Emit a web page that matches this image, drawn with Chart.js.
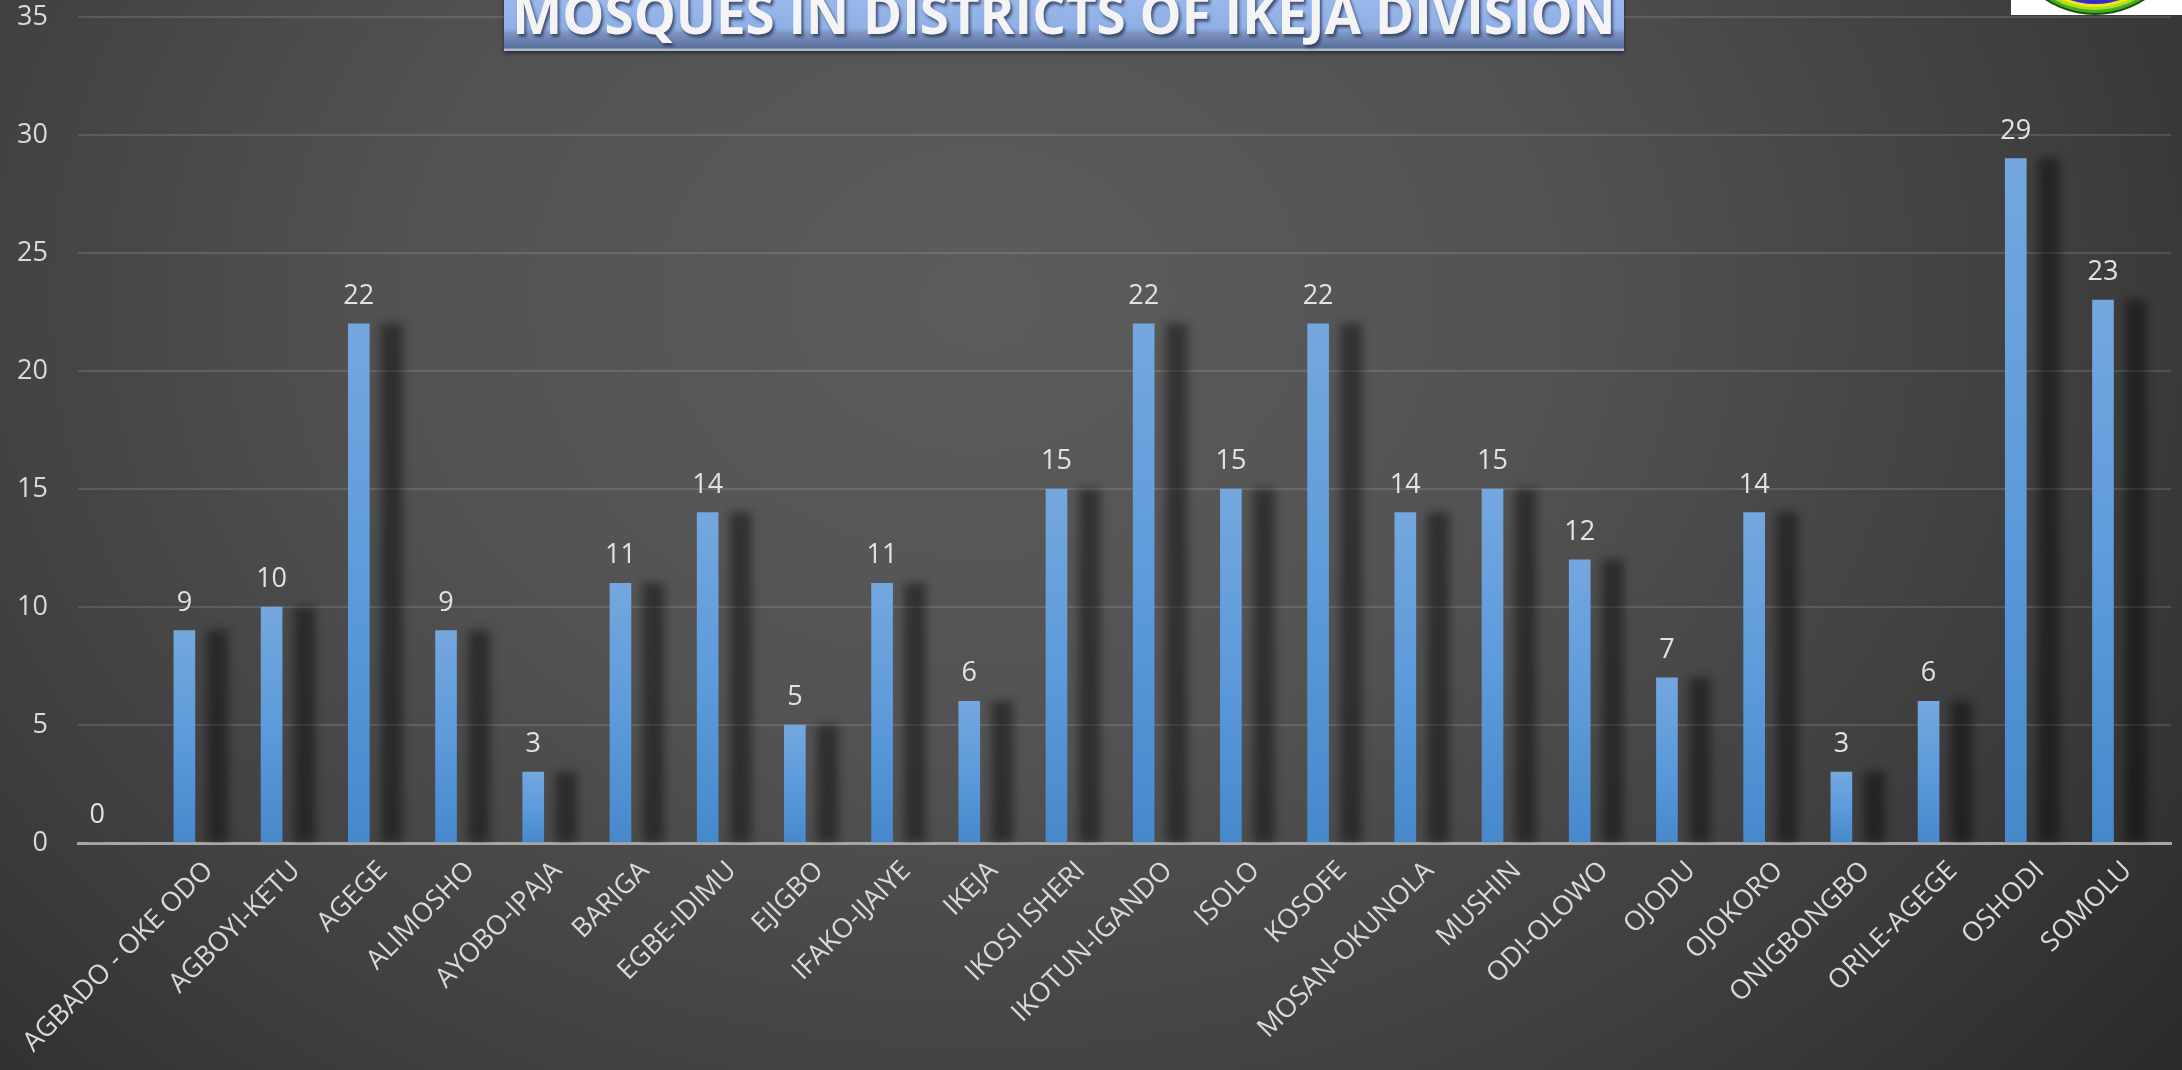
<!DOCTYPE html>
<html>
<head>
<meta charset="utf-8">
<script src="https://cdn.jsdelivr.net/npm/chart.js@4.4.1/dist/chart.umd.min.js"></script>
<style>
  html, body { margin: 0; padding: 0; }
  body {
    width: 2182px; height: 1070px; overflow: hidden; position: relative;
    background: radial-gradient(ellipse 70% 115% at 45% 28%, #5c5c5c 0%, #525252 38%, #3e3e3e 72%, #2a2a2a 100%);
    font-family: "Open Sans", sans-serif;
  }
  #wrap { position: absolute; left: 0; top: 0; width: 2182px; height: 1070px; }
  #titel {
    position: absolute; left: 504px; top: -30px; width: 1120px; height: 81px;
    box-sizing: border-box; padding-top: 17px;
    background: linear-gradient(to bottom, #a3bff0 0px, #8fb0e6 58px, #7d95c4 63px, #5a6f9a 78px, #aeb9cf 79px, #aeb9cf 81px);
    box-shadow: 0 2px 4px rgba(0,0,0,0.5);
    color: #f4f4f4; font-weight: 700; font-size: 53px; line-height: 53px;
    text-align: center; white-space: nowrap;
    text-shadow: 2px 3px 3px rgba(40,50,80,0.75);
  }
  #logo { position: absolute; left: 2011px; top: 0; }
</style>
</head>
<body>
<div id="wrap"><canvas id="myChart" width="2182" height="1070"></canvas></div>
<div id="titel">MOSQUES IN DISTRICTS OF IKEJA DIVISION</div>
<svg id="logo" width="171" height="15" viewBox="0 0 171 15">
  <rect x="0" y="0" width="171" height="15" fill="#ffffff"/>
  <circle cx="84" cy="-76" r="91" fill="#1f4d12"/>
  <circle cx="84" cy="-76" r="89" fill="#3fae1f"/>
  <circle cx="84" cy="-76" r="86" fill="#a8e01a"/>
  <circle cx="84" cy="-76" r="83" fill="#f2e418"/>
  <circle cx="84" cy="-76" r="80" fill="#2a2fd0"/>
  <circle cx="84" cy="-76" r="77" fill="#5a1fb0"/>
</svg>
<script>
// dzielnice (pierwsza kategoria bez nazwy)
const categories = ["", "AGBADO - OKE ODO", "AGBOYI-KETU", "AGEGE", "ALIMOSHO", "AYOBO-IPAJA",
  "BARIGA", "EGBE-IDIMU", "EJIGBO", "IFAKO-IJAIYE", "IKEJA", "IKOSI ISHERI", "IKOTUN-IGANDO",
  "ISOLO", "KOSOFE", "MOSAN-OKUNOLA", "MUSHIN", "ODI-OLOWO", "OJODU", "OJOKORO",
  "ONIGBONGBO", "ORILE-AGEGE", "OSHODI", "SOMOLU"];
const mosques = [0, 9, 10, 22, 9, 3, 11, 14, 5, 11, 6, 15, 22, 15, 22, 14, 15, 12, 7, 14, 3, 6, 29, 23];
const yMin = 0;
const yMax = 35;
const yStep = 5;

// slupki sa przesuniete w lewo wzgledem srodka kategorii
const barShift = 0.28;
const labelColor = "#d9d9d9";
const fontFamily = "'Open Sans', sans-serif";

function barGradient(context) {
  const chart = context.chart;
  const y = chart.scales.y;
  if (!chart.chartArea || !y) {
    return "#5b9bd5";
  }
  const top = y.getPixelForValue(context.raw.y);
  const base = y.getPixelForValue(0);
  if (base - top < 1) {
    return "#5b9bd5";
  }
  const g = chart.ctx.createLinearGradient(0, top, 0, base);
  g.addColorStop(0, "#74a7de");
  g.addColorStop(0.5, "#5d9bdb");
  g.addColorStop(1, "#4689cb");
  return g;
}

function bezPaddingu(scale) {
  scale.paddingTop = 0;
  scale.paddingBottom = 0;
}

const cienPlugin = {
  id: "cien",
  beforeDatasetDraw(chart) {
    const ctx = chart.ctx;
    ctx.save();
    ctx.shadowColor = "rgba(0, 0, 0, 0.42)";
    ctx.shadowBlur = 10;
    ctx.shadowOffsetX = 33;
    ctx.shadowOffsetY = 0;
  },
  afterDatasetDraw(chart) {
    chart.ctx.restore();
  },
  afterDatasetsDraw(chart) {
    const ctx = chart.ctx;
    const meta = chart.getDatasetMeta(0);
    ctx.save();
    ctx.fillStyle = "#e2e2e2";
    ctx.font = "27px " + fontFamily;
    ctx.textAlign = "center";
    ctx.textBaseline = "alphabetic";
    meta.data.forEach(function (el, i) {
      ctx.fillText(String(mosques[i]), el.x, el.y - 20);
    });
    ctx.restore();
  },
};

const data = {
  labels: categories,
  datasets: [{
    label: "Mosques",
    data: mosques.map(function (v, i) { return { x: i, y: v }; }),
    xAxisID: "xb",
    backgroundColor: barGradient,
    borderWidth: 0,
    barThickness: 21,
  }],
};

const config = {
  type: "bar",
  data: data,
  options: {
    responsive: false,
    animation: false,
    layout: { padding: { top: 17, right: 11, bottom: 0, left: 0 } },
    plugins: {
      legend: { display: false },
      tooltip: { enabled: false },
    },
    scales: {
      x: {
        type: "category",
        position: "bottom",
        grid: { color: "transparent", drawTicks: false },
        border: { display: true, color: "#a6a6a6", width: 3 },
        ticks: {
          color: labelColor,
          font: { family: fontFamily, size: 27 },
          minRotation: 45,
          maxRotation: 45,
          autoSkip: false,
          padding: 12,
        },
        afterFit(scale) { scale.height = 227; bezPaddingu(scale); },
      },
      xb: {
        type: "linear",
        position: "bottom",
        offset: false,
        bounds: "data",
        min: -0.5 + barShift,
        max: categories.length - 0.5 + barShift,
        grid: { display: false, drawTicks: false },
        border: { display: false },
        ticks: { display: false },
        afterFit(scale) { scale.height = 0; bezPaddingu(scale); },
      },
      y: {
        min: yMin,
        max: yMax,
        ticks: {
          stepSize: yStep,
          color: labelColor,
          font: { family: fontFamily, size: 27 },
          padding: 30,
        },
        grid: { color: "rgba(255, 255, 255, 0.12)", lineWidth: 2, drawTicks: false },
        border: { display: false },
        afterFit(scale) { scale.width = 78; bezPaddingu(scale); },
      },
    },
  },
  plugins: [cienPlugin],
};

new Chart(document.getElementById("myChart"), config);
</script>
</body>
</html>
